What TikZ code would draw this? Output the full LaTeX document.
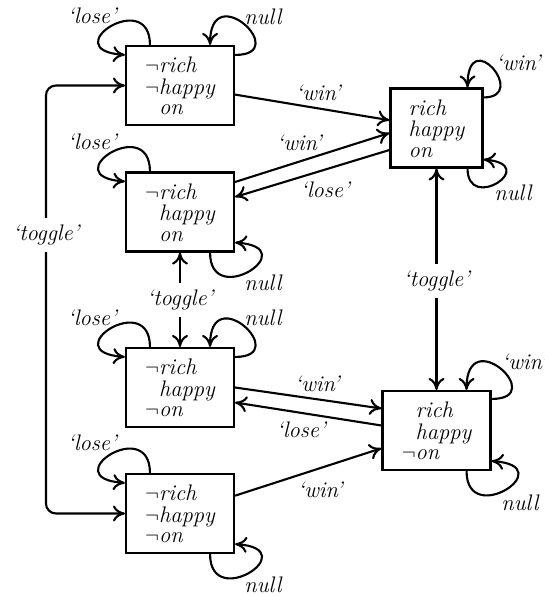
\documentclass[tikz,border=0pt]{standalone}
\usetikzlibrary{arrows.meta,calc}
\newcommand\stfont{\fontsize{22.5}{20.5}\selectfont\itshape}
% self-loops, given the name of the state they sit on
\newcommand\loseloop[1]{\draw[arr] ($(#1.north west)+(25,0)$) .. controls +(0,58) and +(-71,5) .. ($(#1.north west)+(0,-10)$);}
\newcommand\topnull[1]{\draw[arr] ($(#1.north east)+(0,-10)$) .. controls +(58,0) and +(0,68) .. ($(#1.north east)+(-25,0)$);}
\newcommand\botnull[1]{\draw[arr] ($(#1.south east)+(-25,0)$) .. controls +(0,-58) and +(71,-5) .. ($(#1.south east)+(0,10)$);}
\begin{document}
\begin{tikzpicture}[x=1pt,y=1pt,
  state/.style={draw, line width=2.1pt, rectangle, minimum width=108pt, minimum height=79pt,
    inner sep=0pt, font=\stfont, text height=65pt, text depth=6pt},
  lbl/.style={font=\stfont, inner sep=0pt},
  tlbl/.style={lbl, fill=white, inner xsep=3pt, inner ysep=7pt},
  arr/.style={line width=2.1pt, -{To[length=12pt,width=16pt]}},
  biarr/.style={line width=2.1pt, {To[length=12pt,width=16pt]}-{To[length=12pt,width=16pt]}},
]
\useasboundingbox (0,0) rectangle (544,596);

% states
\node[state] (b1) at (180,510.5) {\begin{tabular}[b]{@{}l@{}l@{}}$\neg$&rich\\$\neg$&happy\\&on\end{tabular}};
\node[state] (b2) at (180,384) {\begin{tabular}[b]{@{}l@{}l@{}}$\neg$&rich\\&happy\\&on\end{tabular}};
\node[state] (b3) at (180,208.5) {\begin{tabular}[b]{@{}l@{}l@{}}$\neg$&rich\\&happy\\$\neg$&on\end{tabular}};
\node[state] (b4) at (180,82.5) {\begin{tabular}[b]{@{}l@{}l@{}}$\neg$&rich\\$\neg$&happy\\$\neg$&on\end{tabular}};
\node[state, minimum width=92pt] (r1) at (436.5,468) {\begin{tabular}[b]{@{}l@{}}rich\\happy\\on\end{tabular}};
\node[state] (r2) at (436.5,165.5) {\begin{tabular}[b]{@{}l@{}l@{}}&rich\\&happy\\$\neg$&on\end{tabular}};

% transitions between states
\draw[arr] (b1) -- (r1);
\draw[arr] ($(b2.east)+(0,30)$) -- ($(r1.west)+(0,-5)$);
\draw[arr] ($(r1.west)+(0,-22)$) -- ($(b2.east)+(0,15)$);
\draw[arr] (b3.east) -- ($(r2.west)+(0,22)$);
\draw[arr] ($(r2.west)+(0,5)$) -- ($(b3.east)+(0,-15)$);
\draw[arr] (b4) -- (r2);
\draw[biarr] (b2) -- (b3);
\draw[biarr] (r1) -- (r2);
\draw[biarr, rounded corners=10pt] (b1.west) -| ($(b4.west)+(-79,0)$) -- (b4.west);

% self-loops
\loseloop{b1} \loseloop{b2} \loseloop{b3} \loseloop{b4}
\topnull{b1} \topnull{b3}
\botnull{b2} \botnull{b4} \botnull{r2}
\draw[arr] ($(r1.south east)+(-16,0)$) .. controls +(0,-45) and +(58,-5) .. ($(r1.south east)+(0,9)$);
\draw[arr] ($(r1.north east)+(0,-10)$) .. controls +(46,0) and +(0,64) .. ($(r1.north east)+(-16,0)$);
\draw[arr] ($(r2.north east)+(0,-9)$) .. controls +(58,0) and +(0,68) .. ($(r2.north east)+(-25,0)$);

% labels
\node[lbl] (l1) at (92,580) {‘lose’};
\node[lbl] (l2) at (263,579) {null};
\node[lbl] (l3) at (318,503) {‘win’};
\node[lbl] (l4) at (299,453) {‘win’};
\node[lbl] (l5) at (325,406) {‘lose’};
\node[lbl] (l6) at (518,533) {‘win’};
\node[lbl] (l7) at (513,403) {null};
\node[lbl] (l8) at (92,454) {‘lose’};
\node[lbl] (l9) at (263,313) {null};
\node[tlbl] (l10) at (46,361) {‘toggle’};
\node[tlbl] (l11) at (180,296) {‘toggle’};
\node[lbl] (l12) at (92,278) {‘lose’};
\node[lbl] (l13) at (263,278) {null};
\node[tlbl] (l14) at (436.5,315) {‘toggle’};
\node[lbl] (l15) at (317,212) {‘win’};
\node[lbl] (l16) at (301,166) {‘lose’};
\node[lbl] (l17) at (524,234) {‘win’};
\node[lbl] (l18) at (520,93) {null};
\node[lbl] (l19) at (92,153) {‘lose’};
\node[lbl] (l20) at (320,106) {‘win’};
\node[lbl] (l21) at (263,11) {null};
\end{tikzpicture}
\end{document}
